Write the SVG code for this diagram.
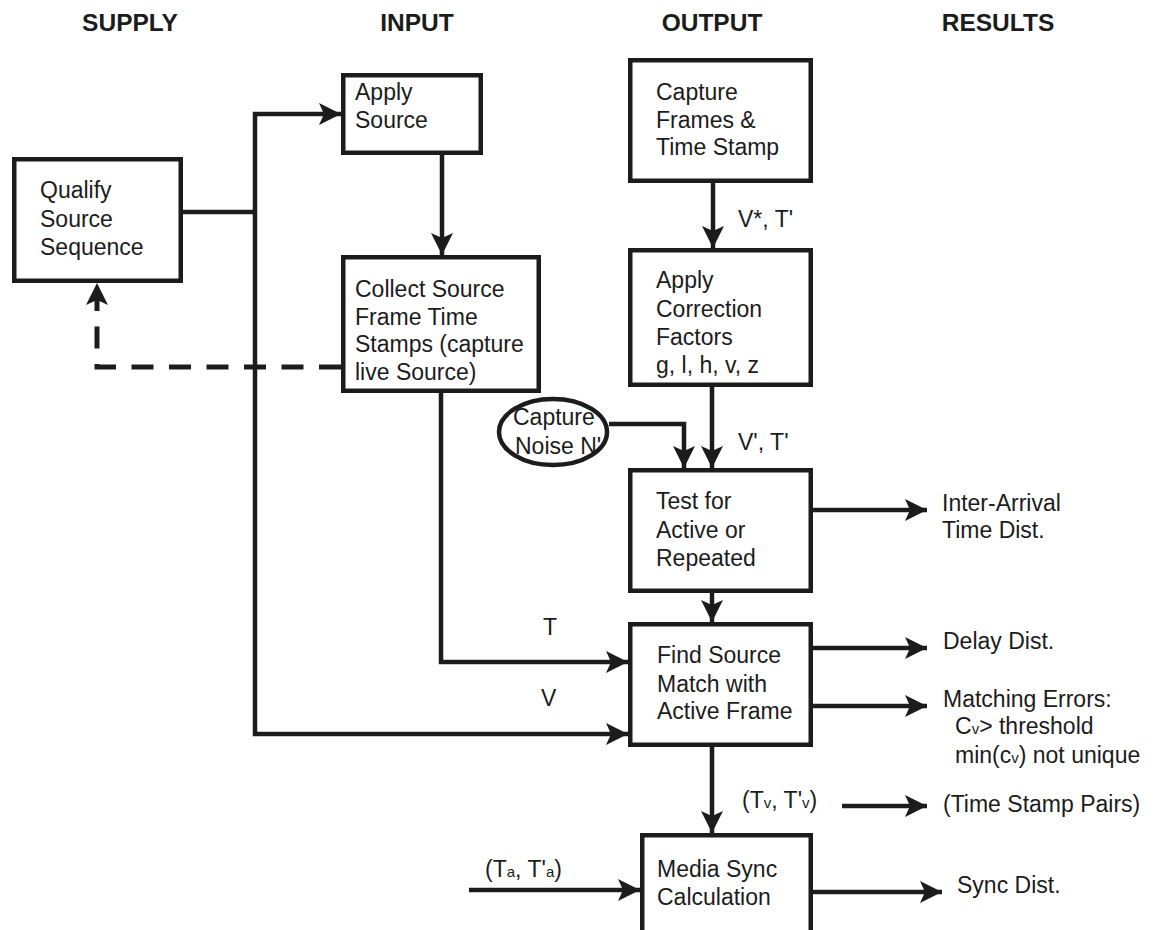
<svg xmlns="http://www.w3.org/2000/svg" width="1154" height="930" viewBox="0 0 1154 930">
<style>
  .box { fill: #ffffff; stroke: #1c1c1c; stroke-width: 4.5; }
  .t { font-family: "Liberation Sans", Arial, sans-serif; font-size: 23px; fill: #1c1c1c; }
  .h { font-family: "Liberation Sans", Arial, sans-serif; font-size: 24.5px; font-weight: bold; fill: #1c1c1c; text-anchor: middle; }
  .sub { font-size: 15px; }
  .ln { fill: none; stroke: #1c1c1c; stroke-width: 4.5; }
  .arr { fill: none; stroke: #1c1c1c; stroke-width: 4.5; marker-end: url(#ah); }
  .dash { fill: none; stroke: #1c1c1c; stroke-width: 5; stroke-dasharray: 22 15.5; marker-end: url(#ah); }
</style>
<defs>
  <marker id="ah" markerUnits="userSpaceOnUse" markerWidth="24" markerHeight="24" refX="22" refY="11" orient="auto" overflow="visible">
    <path d="M0,0 L22,11 L0,22 L5,11 Z" fill="#1c1c1c"/>
  </marker>
</defs>
<rect width="1154" height="930" fill="#ffffff"/>

<g id="headers">
  <text class="h" x="130" y="31">SUPPLY</text>
  <text class="h" x="417" y="31">INPUT</text>
  <text class="h" x="712" y="31">OUTPUT</text>
  <text class="h" x="998" y="31">RESULTS</text>
</g>

<g id="connectors">
  <path class="ln" d="M183,212 H255"/>
  <path class="arr" d="M255,212 V114 H341"/>
  <path class="arr" d="M255,212 V734 H628"/>
  <path class="dash" d="M341,367 H97 V283"/>
  <path class="arr" d="M442,155 V255"/>
  <path class="arr" d="M441,393 V662 H628"/>
  <path class="arr" d="M713,183 V248"/>
  <path class="arr" d="M712,387 V468"/>
  <path class="arr" d="M609,424 H684 V468"/>
  <path class="arr" d="M712,593 V622"/>
  <path class="arr" d="M712,747 V833"/>
  <path class="arr" d="M469,890 H640"/>
  <path class="arr" d="M813,510 H927"/>
  <path class="arr" d="M813,648 H927"/>
  <path class="arr" d="M813,706 H927"/>
  <path class="arr" d="M842,806 H927"/>
  <path class="arr" d="M813,892 H942"/>
  <text class="t" x="738" y="227">V*, T'</text>
  <text class="t" x="738" y="450">V', T'</text>
  <text class="t" x="543" y="635">T</text>
  <text class="t" x="541" y="706">V</text>
  <text class="t" x="742" y="808">(T<tspan class="sub">v</tspan>, T'<tspan class="sub">v</tspan>)</text>
  <text class="t" x="485" y="877">(T<tspan class="sub">a</tspan>, T'<tspan class="sub">a</tspan>)</text>
</g>

<g id="qualify">
  <rect class="box" x="14.25" y="159.25" width="166.5" height="121.5"/>
  <text class="t" x="40" y="198">Qualify</text>
  <text class="t" x="40" y="227">Source</text>
  <text class="t" x="40" y="255">Sequence</text>
</g>

<g id="apply-source">
  <rect class="box" x="343.25" y="75.25" width="137.5" height="77.5"/>
  <text class="t" x="355" y="100">Apply</text>
  <text class="t" x="355" y="128">Source</text>
</g>

<g id="collect">
  <rect class="box" x="343.25" y="257.25" width="195.5" height="133.5"/>
  <text class="t" x="355" y="297">Collect Source</text>
  <text class="t" x="355" y="325">Frame Time</text>
  <text class="t" x="355" y="352">Stamps (capture</text>
  <text class="t" x="355" y="380">live Source)</text>
</g>

<g id="capture-noise">
  <ellipse cx="553" cy="432" rx="54" ry="33" fill="#ffffff" stroke="#1c1c1c" stroke-width="4.5"/>
  <text class="t" x="513" y="425">Capture</text>
  <text class="t" x="515" y="454">Noise N'</text>
</g>

<g id="capture-frames">
  <rect class="box" x="630.25" y="60.25" width="180.5" height="120.5"/>
  <text class="t" x="656" y="100">Capture</text>
  <text class="t" x="656" y="128">Frames &amp;</text>
  <text class="t" x="656" y="155">Time Stamp</text>
</g>

<g id="apply-correction">
  <rect class="box" x="630.25" y="250.25" width="180.5" height="134.5"/>
  <text class="t" x="656" y="288">Apply</text>
  <text class="t" x="656" y="317">Correction</text>
  <text class="t" x="656" y="345">Factors</text>
  <text class="t" x="656" y="373">g, l, h, v, z</text>
</g>

<g id="test-active">
  <rect class="box" x="630.25" y="470.25" width="180.5" height="120.5"/>
  <text class="t" x="656" y="509">Test for</text>
  <text class="t" x="656" y="538">Active or</text>
  <text class="t" x="656" y="566">Repeated</text>
</g>

<g id="find-match">
  <rect class="box" x="630.25" y="624.25" width="180.5" height="120.5"/>
  <text class="t" x="657" y="663">Find Source</text>
  <text class="t" x="657" y="692">Match with</text>
  <text class="t" x="657" y="719">Active Frame</text>
</g>

<g id="media-sync">
  <rect class="box" x="642.25" y="835.25" width="168.5" height="105"/>
  <text class="t" x="657" y="877">Media Sync</text>
  <text class="t" x="657" y="905">Calculation</text>
</g>

<g id="results">
  <text class="t" x="942" y="511">Inter-Arrival</text>
  <text class="t" x="942" y="538">Time Dist.</text>
  <text class="t" x="943" y="649">Delay Dist.</text>
  <text class="t" x="943" y="707">Matching Errors:</text>
  <text class="t" x="955" y="734">C<tspan class="sub">v</tspan>&gt; threshold</text>
  <text class="t" x="955" y="763">min(c<tspan class="sub">v</tspan>) not unique</text>
  <text class="t" x="943" y="812">(Time Stamp Pairs)</text>
  <text class="t" x="957" y="893">Sync Dist.</text>
</g>
</svg>
